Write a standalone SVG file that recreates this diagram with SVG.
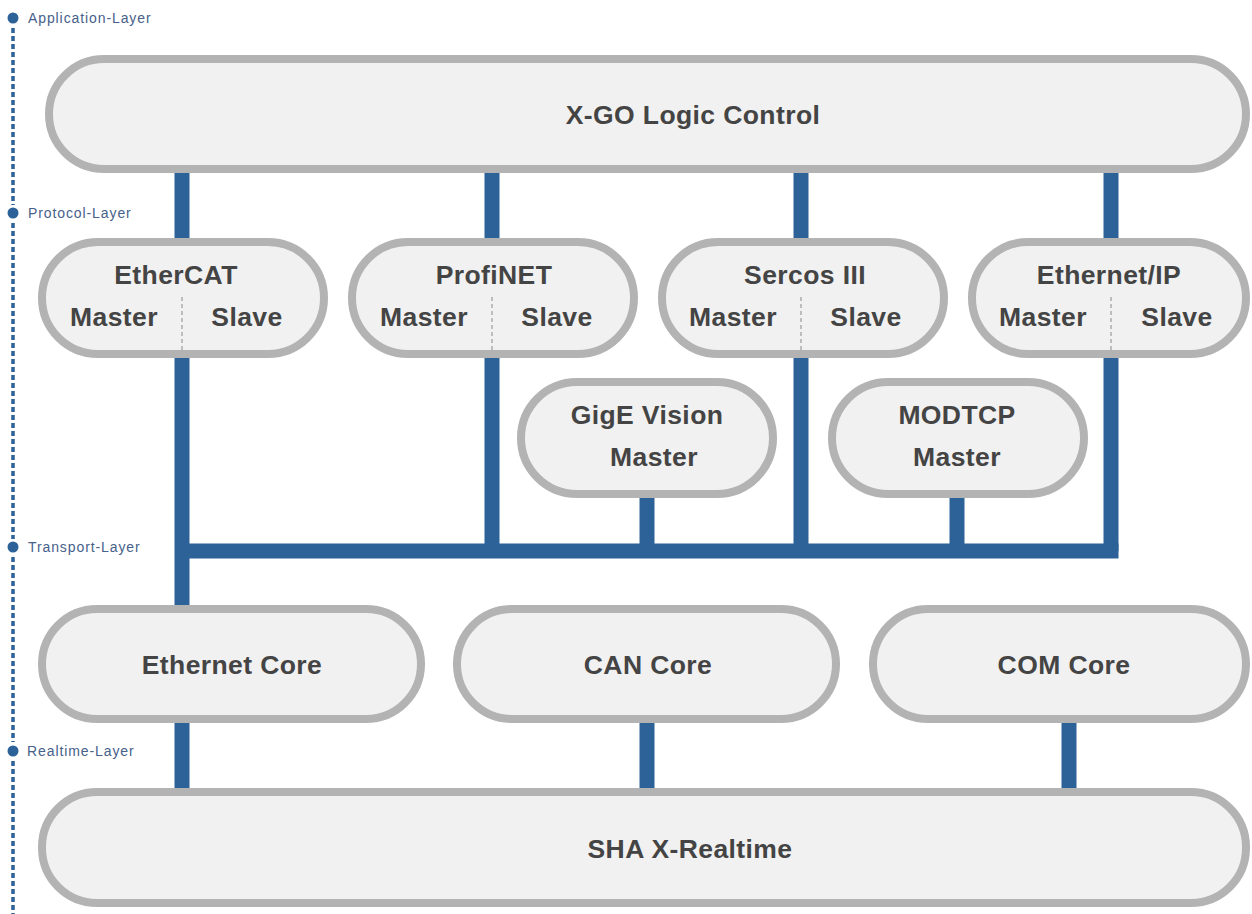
<svg xmlns="http://www.w3.org/2000/svg" width="1252" height="914" viewBox="0 0 1252 914">
<style>
.box{fill:#f1f1f1;stroke:#b3b3b3;stroke-width:8}
.t{font-family:"Liberation Sans",Arial,sans-serif;font-weight:bold;font-size:26.5px;fill:#444;text-anchor:middle;letter-spacing:0.4px}
.lbl{font-family:"Liberation Sans",Arial,sans-serif;font-size:14px;fill:#46618a;letter-spacing:0.9px}
.div{stroke:#bdbdbd;stroke-width:2;stroke-dasharray:4 3}
.bus{stroke:#2d6299;stroke-width:15;fill:none;stroke-linecap:butt}
.dots{stroke:#2d6299;stroke-width:3.5;stroke-dasharray:5 3}
</style>
<rect width="1252" height="914" fill="#ffffff"/>
<g id="layers">
<line class="dots" x1="13" y1="28" x2="13" y2="205"/>
<line class="dots" x1="13" y1="223" x2="13" y2="539"/>
<line class="dots" x1="13" y1="557" x2="13" y2="742"/>
<line class="dots" x1="13" y1="761" x2="13" y2="914"/>
<circle cx="13" cy="18" r="5.5" fill="#2d6299"/>
<text class="lbl" x="28" y="23">Application-Layer</text>
<circle cx="13" cy="213" r="5.5" fill="#2d6299"/>
<text class="lbl" x="28" y="218">Protocol-Layer</text>
<circle cx="13" cy="547" r="5.5" fill="#2d6299"/>
<text class="lbl" x="28" y="552">Transport-Layer</text>
<circle cx="13" cy="751" r="5.5" fill="#2d6299"/>
<text class="lbl" x="27" y="756">Realtime-Layer</text>
</g>
<g id="connectors">
<line class="bus" x1="182" y1="168" x2="182" y2="244"/>
<line class="bus" x1="492" y1="168" x2="492" y2="244"/>
<line class="bus" x1="801" y1="168" x2="801" y2="244"/>
<line class="bus" x1="1111" y1="168" x2="1111" y2="244"/>
<line class="bus" x1="182" y1="352" x2="182" y2="611"/>
<line class="bus" x1="492" y1="352" x2="492" y2="551"/>
<line class="bus" x1="801" y1="352" x2="801" y2="551"/>
<line class="bus" x1="1111" y1="352" x2="1111" y2="551"/>
<line class="bus" x1="647" y1="492" x2="647" y2="551"/>
<line class="bus" x1="957" y1="492" x2="957" y2="551"/>
<line class="bus" x1="175" y1="551" x2="1118.5" y2="551"/>
<line class="bus" x1="182" y1="717" x2="182" y2="794"/>
<line class="bus" x1="647" y1="717" x2="647" y2="794"/>
<line class="bus" x1="1069" y1="717" x2="1069" y2="794"/>
</g>
<g id="xgo">
<rect class="box" x="49" y="59" width="1197" height="110" rx="55"/>
<text class="t" x="693" y="124">X-GO Logic Control</text>
</g>
<g id="ethercat">
<rect class="box" x="42" y="242" width="282" height="112" rx="56"/>
<text class="t" x="176" y="284">EtherCAT</text>
<line class="div" x1="182" y1="297" x2="182" y2="352"/>
<text class="t" x="114" y="326">Master</text>
<text class="t" x="247" y="326">Slave</text>
</g>
<g id="profinet">
<rect class="box" x="352" y="242" width="282" height="112" rx="56"/>
<text class="t" x="494" y="284">ProfiNET</text>
<line class="div" x1="492" y1="297" x2="492" y2="352"/>
<text class="t" x="424" y="326">Master</text>
<text class="t" x="557" y="326">Slave</text>
</g>
<g id="sercos">
<rect class="box" x="662" y="242" width="282" height="112" rx="56"/>
<text class="t" x="805" y="284">Sercos III</text>
<line class="div" x1="801" y1="297" x2="801" y2="352"/>
<text class="t" x="733" y="326">Master</text>
<text class="t" x="866" y="326">Slave</text>
</g>
<g id="ethernetip">
<rect class="box" x="972" y="242" width="274" height="112" rx="56"/>
<text class="t" x="1109" y="284">Ethernet/IP</text>
<line class="div" x1="1111" y1="297" x2="1111" y2="352"/>
<text class="t" x="1043" y="326">Master</text>
<text class="t" x="1177" y="326">Slave</text>
</g>
<g id="gige">
<rect class="box" x="521" y="382" width="252" height="112" rx="56"/>
<text class="t" x="647" y="424">GigE Vision</text>
<text class="t" x="654" y="466">Master</text>
</g>
<g id="modtcp">
<rect class="box" x="832" y="382" width="252" height="112" rx="56"/>
<text class="t" x="957" y="424">MODTCP</text>
<text class="t" x="957" y="466">Master</text>
</g>
<g id="ethcore">
<rect class="box" x="42" y="609" width="379" height="110" rx="55"/>
<text class="t" x="232" y="674">Ethernet Core</text>
</g>
<g id="cancore">
<rect class="box" x="457" y="609" width="379" height="110" rx="55"/>
<text class="t" x="648" y="674">CAN Core</text>
</g>
<g id="comcore">
<rect class="box" x="873" y="609" width="373" height="110" rx="55"/>
<text class="t" x="1064" y="674">COM Core</text>
</g>
<g id="sha">
<rect class="box" x="42" y="792" width="1204" height="111" rx="55"/>
<text class="t" x="690" y="858">SHA X-Realtime</text>
</g>
</svg>
